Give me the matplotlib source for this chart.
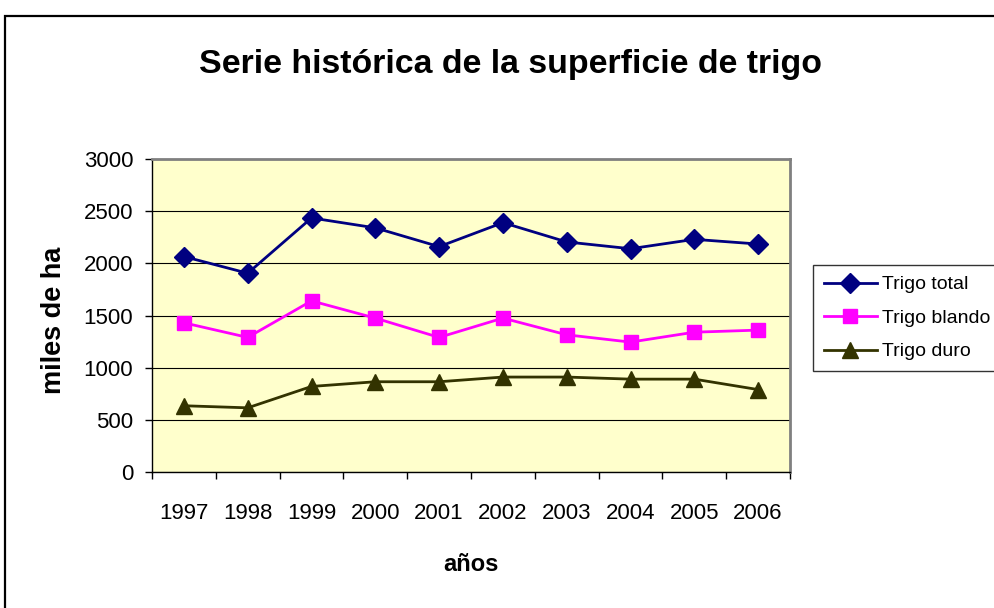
import numpy as np
import matplotlib.pyplot as plt
from matplotlib.patches import Rectangle

plt.rcParams['font.family'] = ['Liberation Sans', 'DejaVu Sans']

anios = ['1997', '1998', '1999', '2000', '2001', '2002', '2003', '2004', '2005', '2006']
trigo_total = [2065, 1905, 2435, 2340, 2160, 2390, 2205, 2140, 2230, 2185]
trigo_blando = [1430, 1290, 1640, 1475, 1290, 1475, 1315, 1245, 1340, 1360]
trigo_duro = [635, 615, 820, 865, 865, 910, 910, 890, 890, 790]

W, H = 994, 608
fig = plt.figure(figsize=(W / 100, H / 100), dpi=100)

# marco exterior del grafico (cortado a la derecha y abajo)
fig.patches.append(Rectangle((5 / W, -0.05), 1.2, 1 - 16 / H + 0.05, transform=fig.transFigure,
                             fill=False, edgecolor='black', linewidth=1.6))

ax = fig.add_axes([152 / W, 1 - 472 / H, (790 - 152) / W, (472 - 159) / H])
ax.set_facecolor('#FFFFCC')
x = np.arange(len(anios))

ax.plot(x, trigo_total, color='#000080', lw=2, marker='D', ms=10, label='Trigo total', zorder=3)
ax.plot(x, trigo_blando, color='#FF00FF', lw=2, marker='s', ms=9.5, label='Trigo blando', zorder=3)
ax.plot(x, trigo_duro, color='#333300', lw=2, marker='^', ms=11, label='Trigo duro', zorder=3)

ax.set_xlim(-0.5, 9.5)
ax.set_ylim(0, 3000)
ax.set_yticks(range(0, 3001, 500))
ax.yaxis.grid(True, color='black', lw=0.8)
ax.set_axisbelow(True)

ax.set_xticks(x)
ax.set_xticklabels(anios)
ax.set_xticks(np.arange(-0.5, 10, 1), minor=True)
ax.tick_params(axis='x', which='major', length=0, pad=22, labelsize=16)
ax.tick_params(axis='x', which='minor', length=5, width=1, direction='out')
ax.tick_params(axis='y', length=5, width=1, direction='out', labelsize=16, pad=8.5)

for s in ['top', 'right']:
    ax.spines[s].set_color('#808080')
    ax.spines[s].set_linewidth(2)
for s in ['left', 'bottom']:
    ax.spines[s].set_color('black')
    ax.spines[s].set_linewidth(1)

ax.set_xlabel('años', fontsize=17, fontweight='bold', labelpad=21)
ax.set_ylabel('miles de ha', fontsize=19.5, fontweight='bold')
ax.yaxis.set_label_coords(-0.133, 0.485)

fig.text(510 / W, 1 - 65 / H, 'Serie histórica de la superficie de trigo', ha='center', va='center',
         fontsize=24.4, fontweight='bold')

leg = fig.legend(loc='upper left', bbox_to_anchor=(813 / W, 1 - 265 / H), fontsize=14,
                 frameon=True, fancybox=False, edgecolor='black', borderpad=0.55,
                 handlelength=2.75, handletextpad=0.25, labelspacing=0.82, borderaxespad=0)
leg.get_frame().set_linewidth(1)

fig.savefig('out.png', dpi=100)
